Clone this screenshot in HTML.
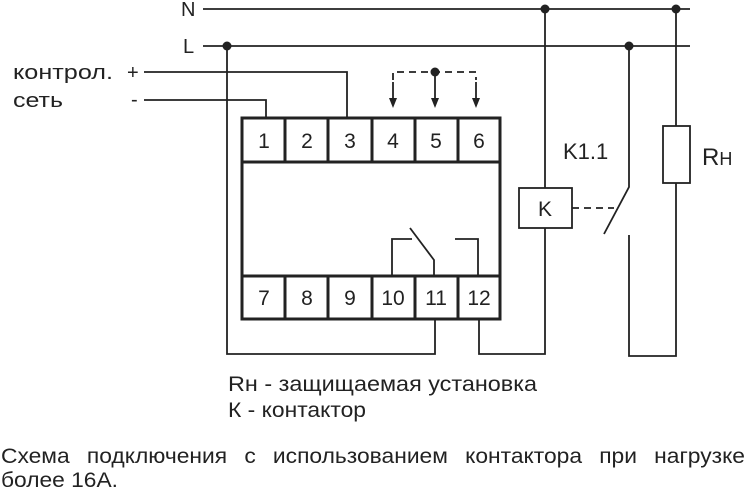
<!DOCTYPE html>
<html><head><meta charset="utf-8"><style>
html,body{margin:0;padding:0;background:#fff;}
svg{display:block;}
</style></head><body>
<svg width="750" height="495" viewBox="0 0 750 495" xmlns="http://www.w3.org/2000/svg" font-family="Liberation Sans, DejaVu Sans, sans-serif">
<g stroke="#222" stroke-width="1.8" fill="none">
<line x1="203" y1="9" x2="690" y2="9"/>
<line x1="203" y1="46" x2="690" y2="46"/>
<polyline points="144,72 347,72 347,117"/>
<polyline points="144,100 266,100 266,117"/>
<polyline points="227,46 227,354 435,354 435,320"/>
<polyline points="479,320 479,354 545,354 545,228"/>
<line x1="545" y1="9" x2="545" y2="188"/>
<rect x="519" y="188" width="53" height="40"/>
<line x1="572" y1="208" x2="614" y2="208" stroke-dasharray="7,5"/>
<polyline points="629,46 629,187 604,234"/>
<polyline points="629,235 629,356 676,356 676,183"/>
<line x1="676" y1="9" x2="676" y2="126"/>
<rect x="663" y="126" width="27" height="57"/>
<polyline points="392,276 392,239 412,239"/>
<polyline points="410,228 434,260 434,276"/>
<polyline points="455,239 478,239 478,276"/>
<polyline points="393,80 393,72 476,72 476,80" stroke-dasharray="7,5"/>
<line x1="393" y1="82" x2="393" y2="100"/>
<line x1="435" y1="72" x2="435" y2="100"/>
<line x1="476" y1="82" x2="476" y2="100"/>
</g>
<g fill="#222">
<polygon points="389,98 397,98 393,108"/>
<polygon points="431,98 439,98 435,108"/>
<polygon points="472,98 480,98 476,108"/>
<circle cx="435" cy="72" r="4.5"/>
<circle cx="227" cy="46" r="4.5"/>
<circle cx="545" cy="9" r="4.5"/>
<circle cx="676" cy="9" r="4.5"/>
<circle cx="629" cy="46" r="4.5"/>
</g>
<g stroke="#222" stroke-width="3" fill="none">
<rect x="242" y="118" width="258" height="201"/>
<line x1="242" y1="162" x2="500" y2="162"/>
<line x1="242" y1="276" x2="500" y2="276"/>
<line x1="285" y1="118" x2="285" y2="162"/><line x1="328" y1="118" x2="328" y2="162"/><line x1="372" y1="118" x2="372" y2="162"/><line x1="415" y1="118" x2="415" y2="162"/><line x1="458" y1="118" x2="458" y2="162"/>
<line x1="285" y1="276" x2="285" y2="319"/><line x1="328" y1="276" x2="328" y2="319"/><line x1="372" y1="276" x2="372" y2="319"/><line x1="415" y1="276" x2="415" y2="319"/><line x1="458" y1="276" x2="458" y2="319"/>
</g>
<g fill="#222" font-size="21" text-anchor="middle">
<text x="264" y="148">1</text><text x="307" y="148">2</text><text x="350" y="148">3</text><text x="393" y="148">4</text><text x="436" y="148">5</text><text x="479" y="148">6</text>
<text x="264" y="305">7</text><text x="307" y="305">8</text><text x="350" y="305">9</text><text x="393" y="305">10</text><text x="436" y="305">11</text><text x="479" y="305">12</text>
<text x="545" y="216">K</text>
</g>
<g fill="#222" font-size="20">
<text x="181" y="16">N</text>
<text x="183" y="53">L</text>
<text x="13" y="79" textLength="100" lengthAdjust="spacingAndGlyphs">контрол.</text>
<text x="127" y="79">+</text>
<text x="13" y="107" textLength="50" lengthAdjust="spacingAndGlyphs">сеть</text>
<text x="131" y="106">-</text>
<text x="563" y="159" font-size="22">K1.1</text>
<text x="702" y="165" font-size="24">R<tspan font-size="18">Н</tspan></text>
</g>
<g fill="#222" font-size="21">
<text x="228" y="391" textLength="309" lengthAdjust="spacingAndGlyphs">Rн - защищаемая установка</text>
<text x="228" y="417" textLength="138" lengthAdjust="spacingAndGlyphs">К - контактор</text>
<text x="1" y="463" font-size="21" word-spacing="10" textLength="744" lengthAdjust="spacingAndGlyphs">Схема подключения с использованием контактора при нагрузке</text>
<text x="1" y="487" font-size="21" textLength="117" lengthAdjust="spacingAndGlyphs">более 16А.</text>
</g>
</svg>
</body></html>
